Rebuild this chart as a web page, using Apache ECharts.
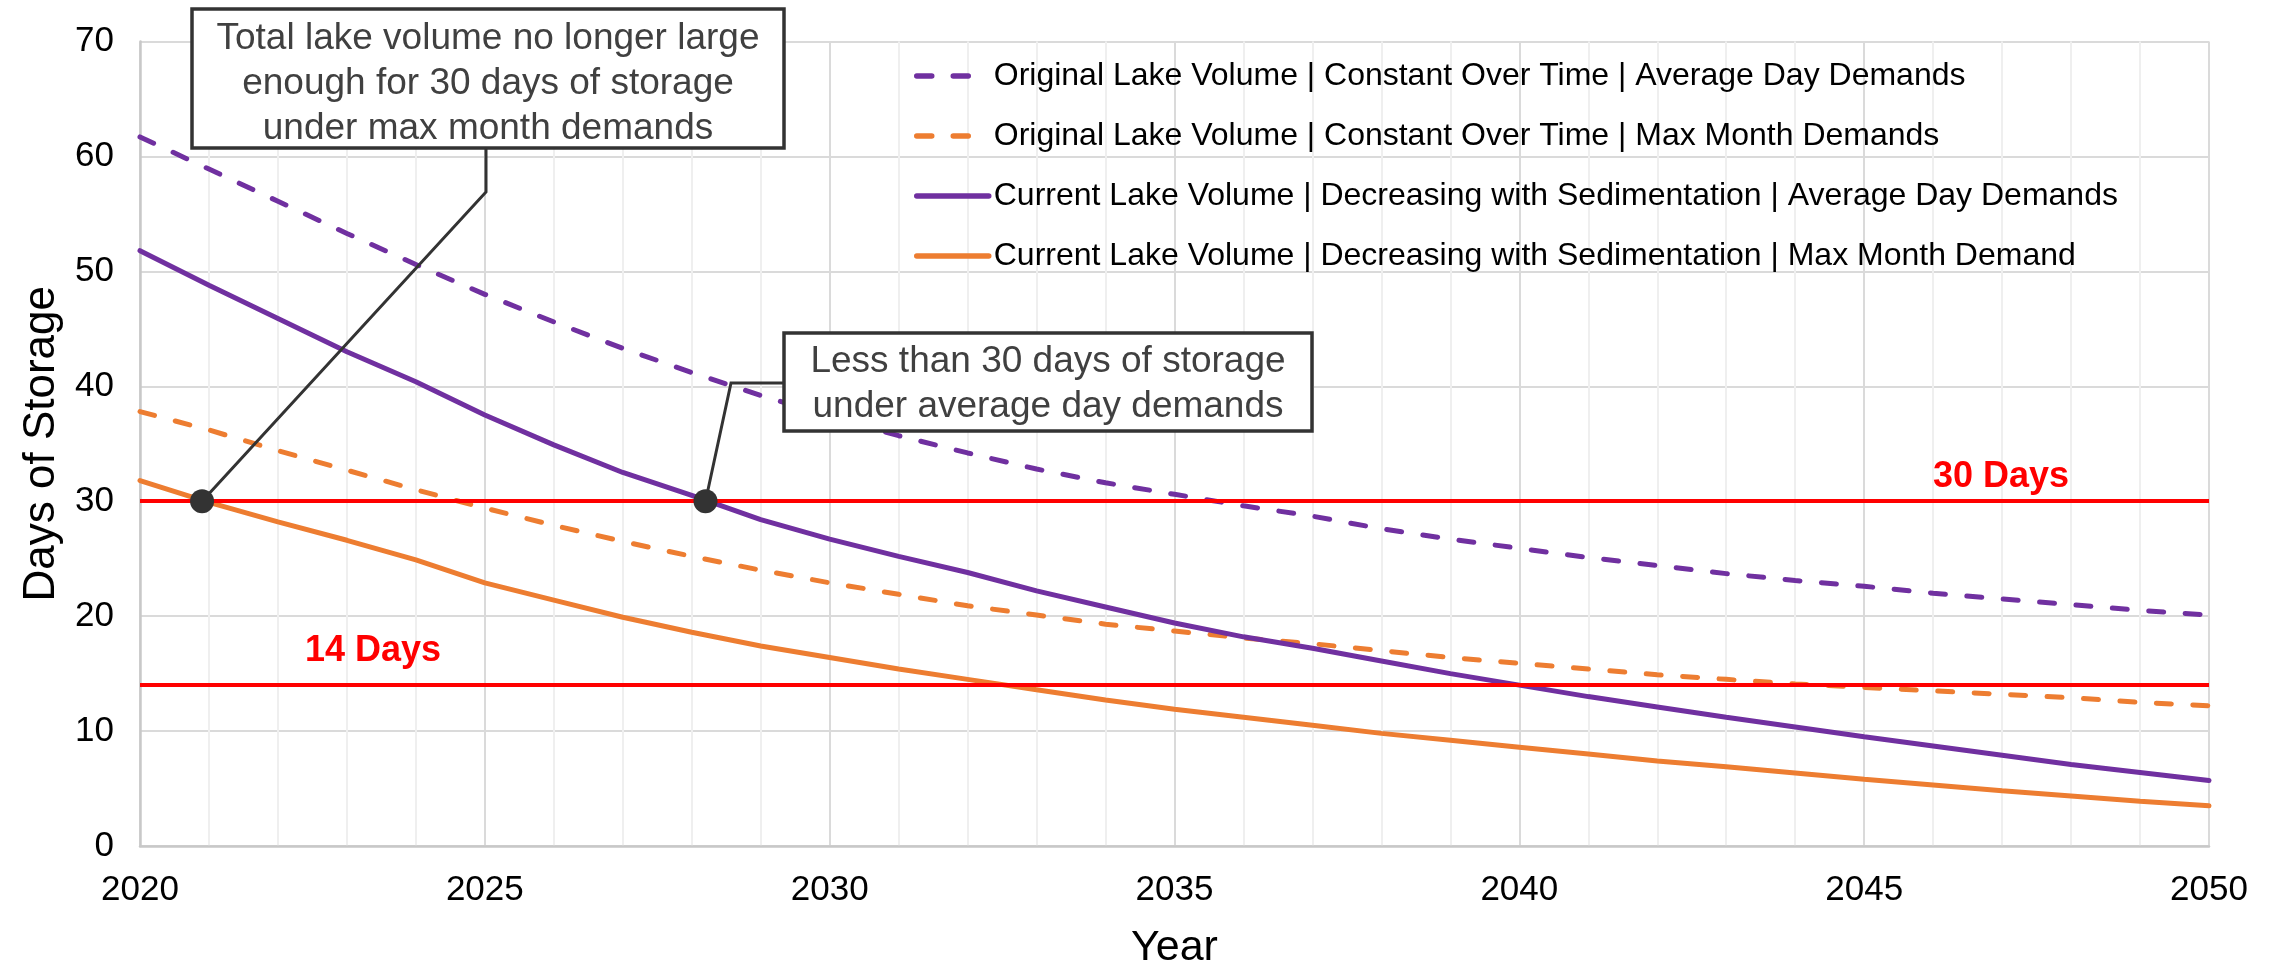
<!DOCTYPE html>
<html>
<head>
<meta charset="utf-8">
<script src="https://cdn.jsdelivr.net/npm/echarts@6/dist/echarts.min.js"></script>
<style>
  html, body { margin: 0; padding: 0; background: #fff; }
  #storage-chart { width: 2280px; height: 964px; }
</style>
</head>
<body>
<div id="storage-chart"></div>
<script>
  // x axis: years
  var years = [2020, 2021, 2022, 2023, 2024, 2025, 2026, 2027, 2028, 2029,
               2030, 2031, 2032, 2033, 2034, 2035, 2036, 2037, 2038, 2039,
               2040, 2041, 2042, 2043, 2044, 2045, 2046, 2047, 2048, 2049, 2050];

  // days of storage
  var origAvgDay   = [61.7, 58.9, 56.1, 53.3, 50.6, 48.0, 45.6, 43.3, 41.2, 39.2,
                      37.4, 35.7, 34.2, 32.8, 31.6, 30.6, 29.6, 28.7, 27.6, 26.7,
                      25.9, 25.1, 24.4, 23.7, 23.1, 22.6, 22.0, 21.5, 21.0, 20.5, 20.1];
  var origMaxMonth = [37.8, 36.2, 34.4, 32.7, 31.0, 29.4, 27.9, 26.5, 25.2, 24.0,
                      22.9, 21.9, 20.9, 20.1, 19.3, 18.7, 18.1, 17.6, 17.0, 16.4,
                      15.9, 15.4, 14.9, 14.5, 14.1, 13.8, 13.5, 13.2, 12.9, 12.5, 12.2];
  var currAvgDay   = [51.8, 48.8, 45.9, 43.0, 40.4, 37.5, 34.9, 32.5, 30.5, 28.4,
                      26.7, 25.2, 23.8, 22.2, 20.8, 19.4, 18.2, 17.2, 16.1, 15.0,
                      14.0, 13.0, 12.1, 11.2, 10.35, 9.5, 8.7, 7.9, 7.1, 6.4, 5.7];
  var currMaxMonth = [31.8, 29.9, 28.2, 26.6, 24.9, 22.9, 21.4, 19.9, 18.6, 17.4,
                      16.4, 15.4, 14.5, 13.6, 12.7, 11.9, 11.2, 10.5, 9.8, 9.2,
                      8.6, 8.0, 7.4, 6.9, 6.35, 5.8, 5.3, 4.8, 4.35, 3.9, 3.5];

  var seriesNames = [
    'Original Lake Volume | Constant Over Time | Average Day Demands',
    'Original Lake Volume | Constant Over Time | Max Month Demands',
    'Current Lake Volume | Decreasing with Sedimentation | Average Day Demands',
    'Current Lake Volume | Decreasing with Sedimentation | Max Month Demand'
  ];

  // red threshold lines
  var thresholdDays = [30, 14];
  var thresholdLabels = ['30 Days', '14 Days'];

  // callout dots [year, days]
  var calloutPoints = [[2020.9, 30], [2028.2, 30]];
  var calloutTexts = [
    'Total lake volume no longer large\nenough for 30 days of storage\nunder max month demands',
    'Less than 30 days of storage\nunder average day demands'
  ];

  var FONT = '"Liberation Sans", Arial, sans-serif';
  var PURPLE = '#7030a0';
  var ORANGE = '#ed7d31';

  function pairs(vals) {
    return years.map(function (y, i) { return [y, vals[i]]; });
  }

  function lineSeries(name, vals, color, dashed) {
    return {
      name: name,
      type: 'line',
      data: pairs(vals),
      showSymbol: false,
      symbol: 'none',
      z: 3,
      lineStyle: {
        color: color,
        width: 5,
        type: dashed ? [15, 21.5] : 'solid',
        cap: 'round'
      },
      itemStyle: { color: color }
    };
  }

  var chart = echarts.init(document.getElementById('storage-chart'));

  var option = {
    animation: false,
    backgroundColor: '#fff',
    textStyle: { fontFamily: FONT },
    grid: { left: 140, right: 71, top: 41.5, bottom: 118, outerBoundsMode: 'none' },
    legend: {
      data: seriesNames,
      orient: 'vertical',
      left: 909,
      top: 55,
      itemWidth: 72,
      itemHeight: 20,
      itemGap: 28,
      itemStyle: { opacity: 0 },
      lineStyle: { width: 5.5, cap: 'round' },
      textStyle: { fontSize: 32, color: '#000', fontFamily: FONT }
    },
    xAxis: {
      type: 'value',
      min: 2020,
      max: 2050,
      interval: 5,
      name: 'Year',
      nameLocation: 'middle',
      nameGap: 81,
      nameTextStyle: { fontSize: 43, color: '#000', fontFamily: FONT },
      axisLine: { show: true, lineStyle: { color: '#c8c8c8', width: 2.5 } },
      axisTick: { show: false },
      axisLabel: {
        fontSize: 35, color: '#000', margin: 27, fontFamily: FONT,
        formatter: function (v) { return String(v); }
      },
      splitLine: { show: true, lineStyle: { color: '#dadada', width: 2 } },
      minorTick: { show: false, splitNumber: 5 },
      minorSplitLine: { show: true, lineStyle: { color: '#efefef', width: 2 } }
    },
    yAxis: {
      type: 'value',
      min: 0,
      max: 70,
      interval: 10,
      name: 'Days of Storage',
      nameLocation: 'middle',
      nameRotate: 90,
      nameGap: 62,
      nameTextStyle: { fontSize: 44, color: '#000', fontFamily: FONT },
      axisLine: { show: true, lineStyle: { color: '#c8c8c8', width: 2.5 } },
      axisTick: { show: false },
      axisLabel: { fontSize: 35, color: '#000', margin: 26, fontFamily: FONT },
      splitLine: { show: true, lineStyle: { color: '#dadada', width: 2 } }
    },
    series: [
      lineSeries(seriesNames[0], origAvgDay, PURPLE, true),
      lineSeries(seriesNames[1], origMaxMonth, ORANGE, true),
      lineSeries(seriesNames[2], currAvgDay, PURPLE, false),
      lineSeries(seriesNames[3], currMaxMonth, ORANGE, false),
      {
        name: 'thresholds',
        type: 'line',
        data: [],
        z: 4,
        markLine: {
          silent: true,
          symbol: ['none', 'none'],
          lineStyle: { color: '#ff0000', width: 4, type: 'solid' },
          data: [
            {
              yAxis: thresholdDays[0],
              label: {
                show: true, formatter: thresholdLabels[0], position: 'insideEndTop',
                distance: [140, 6], color: '#ff0000', fontWeight: 'bold',
                fontSize: 36, fontFamily: FONT
              }
            },
            {
              yAxis: thresholdDays[1],
              label: {
                show: true, formatter: thresholdLabels[1], position: 'insideStartTop',
                distance: [165, 16], color: '#ff0000', fontWeight: 'bold',
                fontSize: 36, fontFamily: FONT
              }
            }
          ]
        }
      },
      {
        name: 'callouts',
        type: 'scatter',
        data: calloutPoints,
        symbolSize: 24,
        z: 20,
        itemStyle: { color: '#333333', opacity: 1 }
      }
    ]
  };

  chart.setOption(option);

  // callout boxes and leader lines
  var p1 = chart.convertToPixel({ gridIndex: 0 }, calloutPoints[0]);
  var p2 = chart.convertToPixel({ gridIndex: 0 }, calloutPoints[1]);

  chart.setOption({
    graphic: [
      {
        type: 'polyline', z: 10,
        shape: { points: [[486, 148], [486, 192], p1] },
        style: { stroke: '#333333', lineWidth: 3, fill: null }
      },
      {
        type: 'polyline', z: 10,
        shape: { points: [[784, 383], [731, 383], p2] },
        style: { stroke: '#333333', lineWidth: 3, fill: null }
      },
      {
        type: 'rect', z: 30,
        shape: { x: 192, y: 9, width: 592, height: 139 },
        style: { fill: '#ffffff', stroke: '#333333', lineWidth: 3.5 }
      },
      {
        type: 'text', z: 31,
        style: {
          text: calloutTexts[0], x: 488, y: 84,
          font: '37px ' + FONT, fill: '#404040',
          align: 'center', verticalAlign: 'middle', lineHeight: 45
        }
      },
      {
        type: 'rect', z: 30,
        shape: { x: 784, y: 333, width: 528, height: 98 },
        style: { fill: '#ffffff', stroke: '#333333', lineWidth: 3.5 }
      },
      {
        type: 'text', z: 31,
        style: {
          text: calloutTexts[1], x: 1048, y: 384,
          font: '37px ' + FONT, fill: '#404040',
          align: 'center', verticalAlign: 'middle', lineHeight: 45
        }
      }
    ]
  });
</script>
</body>
</html>
